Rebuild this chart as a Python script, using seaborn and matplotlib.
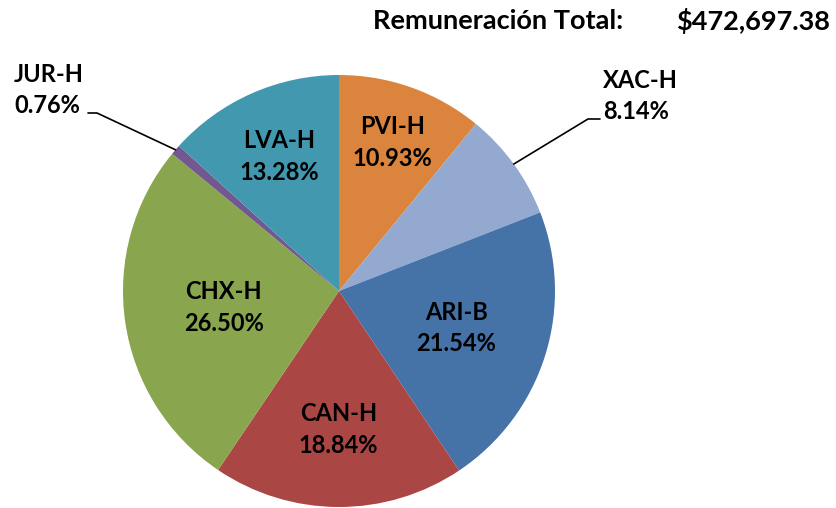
import numpy as np
import matplotlib.pyplot as plt
import seaborn as sns

labels = ["PVI-H", "XAC-H", "ARI-B", "CAN-H", "CHX-H", "JUR-H", "LVA-H"]
shares = [10.93, 8.14, 21.54, 18.84, 26.50, 0.76, 13.28]
colors = ["#DB843D", "#93A9D0", "#4572A7", "#AA4643", "#89A54E", "#71588F", "#4198AF"]
total_label = "Remuneración Total:"
total_value = "$472,697.38"

sns.set_theme(style="white")
plt.rcParams["font.family"] = ["Lato", "DejaVu Sans"]

W, H = 837, 508
fig = plt.figure(figsize=(W / 100, H / 100), dpi=100)
ax = fig.add_axes([0, 0, 1, 1])

cx, cy, R = 339, H - 291, 216
wedges, _ = ax.pie(shares, colors=sns.color_palette(colors), startangle=90,
                   counterclock=False, center=(cx, cy), radius=R,
                   wedgeprops=dict(linewidth=0))
ax.set_xlim(0, W)
ax.set_ylim(0, H)
ax.set_aspect("equal")
ax.axis("off")

font = dict(fontsize=17, fontweight="bold", color="black")

# inside labels: radial position as fraction of radius
inside = {"PVI-H": 0.73, "ARI-B": 0.57, "CAN-H": 0.64, "CHX-H": 0.54, "LVA-H": 0.68}
# outside labels: text anchor (left, centre y) and elbow of the leader line
outside = {"JUR-H": ((14, H - 90), (97, H - 113), (88, H - 113)),
           "XAC-H": ((603, H - 96), (588, H - 119), (600, H - 119))}

for w, lab, val in zip(wedges, labels, shares):
    mid = np.deg2rad((w.theta1 + w.theta2) / 2)
    txt = f"{lab}\n{val:.2f}%"
    if lab in inside:
        f = inside[lab]
        ax.text(cx + f * R * np.cos(mid), cy + f * R * np.sin(mid), txt,
                ha="center", va="center", linespacing=1.45, **font)
    else:
        (tx, ty), (ex, ey), (hx, hy) = outside[lab]
        px, py = cx + R * np.cos(mid), cy + R * np.sin(mid)
        ax.plot([px, ex, hx], [py, ey, hy], color="black", lw=1.2)
        ax.text(tx, ty, txt, ha="left", va="center", linespacing=1.45, **font)

title_font = dict(font, fontsize=19.5)
ax.text(373, H - 21, total_label, ha="left", va="center", **title_font)
ax.text(830, H - 21, total_value, ha="right", va="center", **title_font)

fig.savefig("out.png", dpi=100)
